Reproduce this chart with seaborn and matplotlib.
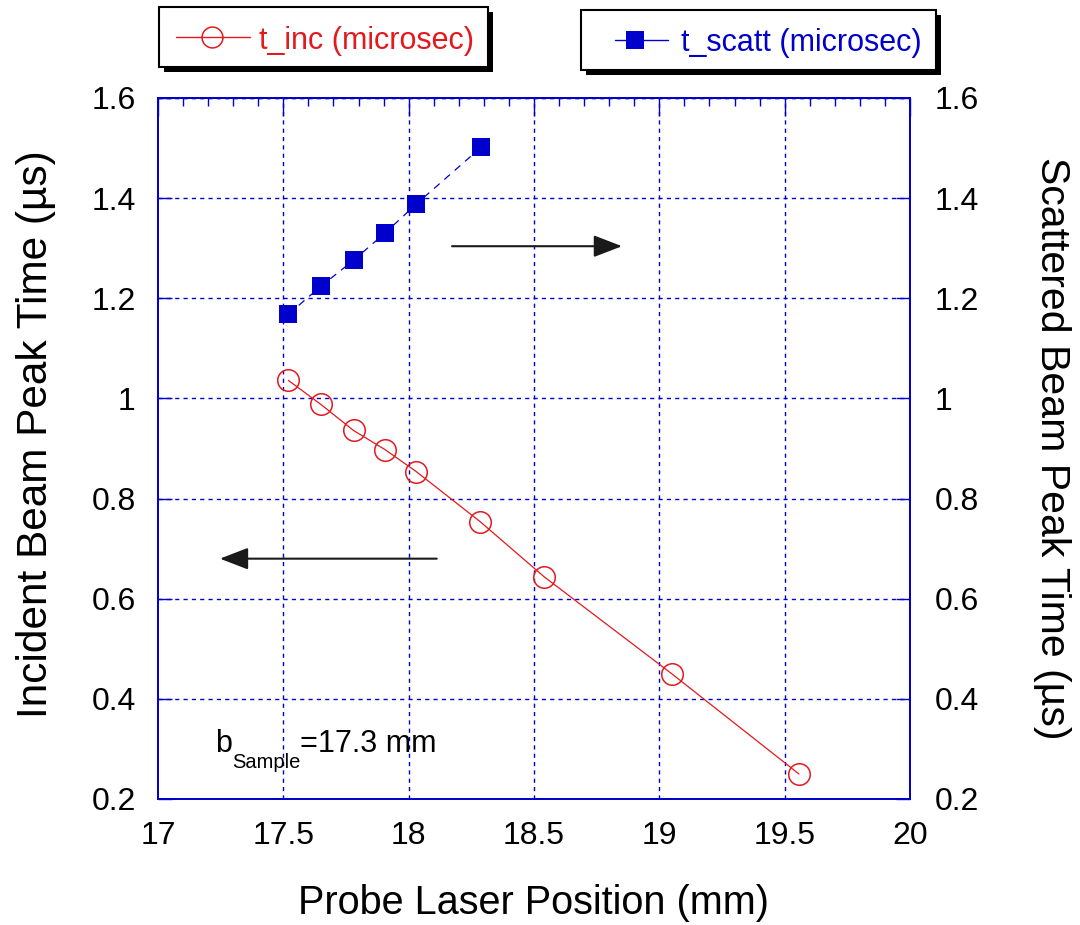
import matplotlib
matplotlib.use("Agg")
import matplotlib.pyplot as plt
import seaborn as sns
import numpy as np
from matplotlib.patches import Rectangle
from matplotlib.lines import Line2D
from matplotlib.ticker import MultipleLocator, FuncFormatter

# ---------------- data ----------------
x_inc = [17.52, 17.65, 17.78, 17.905, 18.03, 18.285, 18.54, 19.05, 19.557]
t_inc = [1.036, 0.988, 0.936, 0.898, 0.854, 0.754, 0.644, 0.450, 0.250]
x_scatt = [17.52, 17.65, 17.78, 17.905, 18.03, 18.29]
t_scatt = [1.168, 1.224, 1.276, 1.330, 1.388, 1.502]

label_inc = "t_inc (microsec)"
label_scatt = "t_scatt (microsec)"
xlabel = "Probe Laser Position (mm)"
ylabel_left = "Incident Beam Peak Time (\u00b5s)"
ylabel_right = "Scattered Beam Peak Time (\u00b5s)"
note_main = "b"
note_sub = "Sample"
note_rest = "=17.3 mm"

x_range = (17, 20)
y_range = (0.2, 1.6)

# annotation arrows (data coordinates)
arrow_right = ((18.173, 1.304), (18.851, 1.304))
arrow_left = ((18.112, 0.68), (17.247, 0.68))
note_pos = (17.227, 0.294)

RED = "#e3191e"
BLUE = "#0000cc"

sns.set_style("white")
plt.rcParams["font.family"] = ["Liberation Sans", "DejaVu Sans"]
plt.rcParams["text.color"] = "black"
plt.rcParams["axes.labelcolor"] = "black"
plt.rcParams["xtick.color"] = "black"
plt.rcParams["ytick.color"] = "black"

W, H = 1080, 925
fig = plt.figure(figsize=(W / 100, H / 100), dpi=100)
ax = fig.add_axes([158 / W, 1 - 799 / H, (910 - 158) / W, (799 - 98) / H])
ax2 = ax.twinx()

# grid
for v in np.arange(17.5, 20.0, 0.5):
    ax.axvline(v, color=BLUE, lw=1.0, ls=(0, (3, 3)), zorder=0)
for v in np.arange(0.4, 1.6, 0.2):
    ax.axhline(v, color=BLUE, lw=1.0, ls=(0, (3, 3)), zorder=0)
ax.axhline(1.6, color=BLUE, lw=1.0, ls=(0, (3, 3)), zorder=0)

sns.lineplot(x=x_inc, y=t_inc, ax=ax, color=RED, lw=0.9, marker="o",
             markersize=15.5, markerfacecolor="none", markeredgecolor=RED,
             markeredgewidth=1.1, legend=False, sort=False, zorder=3)
sns.lineplot(x=x_scatt, y=t_scatt, ax=ax2, color=BLUE, lw=0.9, marker="s",
             markersize=13.5, markerfacecolor=BLUE, markeredgecolor=BLUE,
             markeredgewidth=0, legend=False, sort=False, zorder=3)
ax2.lines[0].set_linestyle((0, (6, 5)))

for a in (ax, ax2):
    a.set_xlim(*x_range)
    a.set_ylim(*y_range)
    for s in a.spines.values():
        s.set_color(BLUE)
        s.set_linewidth(1.3)
    a.yaxis.set_major_locator(MultipleLocator(0.2))

fmt = FuncFormatter(lambda v, p: f"{v:g}")
ax.xaxis.set_major_locator(MultipleLocator(0.5))
ax.xaxis.set_minor_locator(MultipleLocator(0.1))
ax.xaxis.set_major_formatter(fmt)
ax.yaxis.set_major_formatter(fmt)
ax2.yaxis.set_major_formatter(fmt)
ax.tick_params(axis="x", which="major", direction="in", length=13, width=1.0,
               color=BLUE, labelcolor="black", top=True, labelsize=23, pad=15.5)
ax.tick_params(axis="x", which="minor", direction="in", length=6, width=1.0,
               color=BLUE, top=True)
ax.tick_params(axis="y", which="major", direction="in", length=10, width=1.0,
               color=BLUE, labelcolor="black", labelsize=23, pad=16)
ax2.tick_params(axis="y", which="major", direction="in", length=10, width=1.0,
                color=BLUE, labelcolor="black", labelsize=23, pad=18)

ax.set_xlabel(xlabel, fontsize=28.5, labelpad=24)
ax.set_ylabel(ylabel_left, fontsize=30.5)
ax.yaxis.set_label_coords(-0.136, 0.521)
ax2.set_ylabel(ylabel_right, fontsize=29.5, rotation=-90, labelpad=66)

# arrows
arrow_style = "-|>,head_length=0.7,head_width=0.27"
for (start, end) in (arrow_right, arrow_left):
    ax.annotate("", xy=end, xytext=start,
                arrowprops=dict(arrowstyle=arrow_style, color="#1a1a1a",
                                lw=1.5, mutation_scale=25,
                                shrinkA=0, shrinkB=0), zorder=4)

# note with subscript
t1 = ax.text(note_pos[0], note_pos[1], note_main, fontsize=22, ha="left",
             va="baseline")
fig.canvas.draw()
r = fig.canvas.get_renderer()
bb = t1.get_window_extent(r)
inv = ax.transData.inverted()
xs, _ = inv.transform((bb.x1, bb.y0))
t2 = ax.text(xs, note_pos[1] - 0.032, note_sub, fontsize=14.5, ha="left",
             va="baseline")
bb2 = t2.get_window_extent(r)
xr, _ = inv.transform((bb2.x1, bb2.y0))
ax.text(xr, note_pos[1], note_rest, fontsize=22, ha="left", va="baseline")

# legend boxes with black drop shadow
def legend_box(x0, y0, x1, y1, text, color, hx0, hx1, mx, tx, marker_kw):
    sh = 5
    fig.add_artist(Rectangle(((x0 + sh) / W, 1 - (y1 + sh) / H), (x1 - x0) / W,
                             (y1 - y0) / H, transform=fig.transFigure,
                             facecolor="black", edgecolor="black", lw=0))
    fig.add_artist(Rectangle((x0 / W, 1 - y1 / H), (x1 - x0) / W, (y1 - y0) / H,
                             transform=fig.transFigure, facecolor="white",
                             edgecolor="black", lw=1.5))
    yc = 1 - (y0 + y1) / 2 / H
    fig.add_artist(Line2D([hx0 / W, hx1 / W], [yc, yc], transform=fig.transFigure,
                          color=color, lw=1.0))
    fig.add_artist(Line2D([mx / W], [yc], transform=fig.transFigure, color=color,
                          lw=0, **marker_kw))
    fig.text(tx / W, yc, text, color=color, fontsize=22, ha="left",
             va="center_baseline")

legend_box(159, 7, 488, 67, label_inc, RED, 176, 250, 212, 259,
           dict(marker="o", markersize=15, markerfacecolor="none",
                markeredgecolor=RED, markeredgewidth=1.1))
legend_box(581, 10, 936, 70, label_scatt, BLUE, 615, 668, 635, 681,
           dict(marker="s", markersize=13, markerfacecolor=BLUE,
                markeredgecolor=BLUE, markeredgewidth=0))

fig.savefig("out.png", dpi=100)
